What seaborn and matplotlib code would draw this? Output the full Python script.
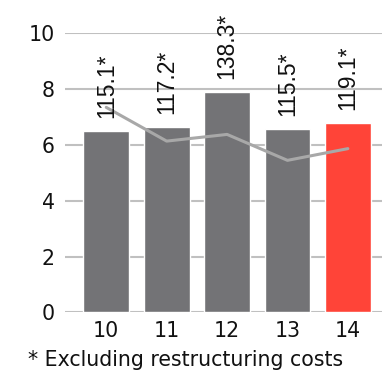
import matplotlib
matplotlib.use("Agg")
import matplotlib.pyplot as plt
import seaborn as sns
import pandas as pd

# Data
years = ["10", "11", "12", "13", "14"]
bar_values = [6.50, 6.65, 7.90, 6.57, 6.79]
line_values = [7.35, 6.14, 6.38, 5.45, 5.87]
bar_labels = ["115.1*", "117.2*", "138.3*", "115.5*", "119.1*"]
yticks = [0, 2, 4, 6, 8, 10]
footnote = "* Excluding restructuring costs"

bar_colors = ["#737376", "#737376", "#737376", "#737376", "#ff4438"]
line_color = "#a8a8a8"
grid_color = "#c0c0c0"

sns.set_theme(style="white")
plt.rcParams["font.family"] = ["DejaVu Sans"]

df = pd.DataFrame({"year": years, "bar": bar_values, "line": line_values,
                   "pos": range(len(years))})

fig = plt.figure(figsize=(3.82, 3.75), dpi=100)
ax = fig.add_axes([0.170, 0.1672, 0.830, 0.7435])

for y in yticks:
    ax.axhline(y, color=grid_color, lw=1.5, zorder=0)

sns.barplot(data=df, x="year", y="bar", hue="year", palette=bar_colors,
            width=0.76, saturation=1, legend=False, ax=ax, zorder=2)
sns.lineplot(data=df, x="pos", y="line", color=line_color, lw=2.2,
             ax=ax, zorder=3)

for i, (v, lab) in enumerate(zip(bar_values, bar_labels)):
    ax.annotate(lab, xy=(i, v), xytext=(0, 9.5), textcoords="offset points",
                rotation=90, ha="center", va="bottom", fontsize=16.5,
                family="Liberation Sans", color="#111111", zorder=4,
                annotation_clip=False)

ax.set_xlim(-0.684, 4.565)
ax.set_ylim(0, 10)
ax.set_yticks(yticks)
ax.set_yticklabels([str(t) for t in yticks])
ax.set_xlabel("")
ax.set_ylabel("")
ax.tick_params(axis="both", length=0, labelsize=14.8, colors="#111111")
ax.tick_params(axis="y", pad=7.5)
ax.tick_params(axis="x", pad=6)
for s in ax.spines.values():
    s.set_visible(False)

fig.text(0.073, 0.04, footnote, fontsize=14.8, color="#111111",
         ha="left", va="center")

fig.savefig("out.png", dpi=100)
